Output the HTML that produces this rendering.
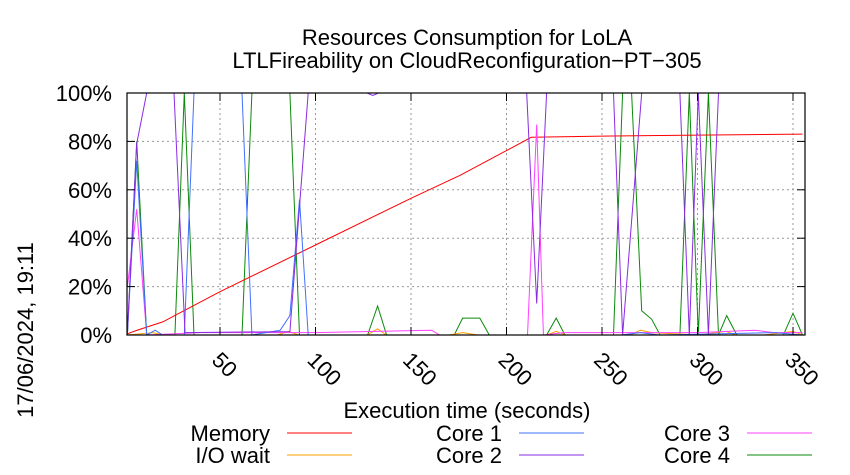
<!DOCTYPE html>
<html><head><meta charset="utf-8"><style>
body{margin:0;background:#fff}
svg{display:block;font-family:"Liberation Sans",sans-serif}
</style></head><body>
<svg id="c" width="850" height="475" viewBox="0 0 850 475">
<text x="467" y="45" font-size="22" text-anchor="middle">Resources Consumption for LoLA</text>
<text x="467" y="68" font-size="22" text-anchor="middle">LTLFireability on CloudReconfiguration−PT−305</text>
<text transform="translate(33,330) rotate(-90)" font-size="22" text-anchor="middle">17/06/2024, 19:11</text>
<text x="467" y="418" font-size="22" text-anchor="middle">Execution time (seconds)</text>
<g id="grid"></g>
<g id="series"></g>
<g id="axes"></g>
<g id="legend"></g>
</svg>
<script>
const xTicks=[50,100,150,200,250,300,350];
const yTicks=[0,20,40,60,80,100];
const yTickLabels=["0%","20%","40%","60%","80%","100%"];
const seriesNames=["Memory","I/O wait","Core 1","Core 2","Core 3","Core 4"];
const seriesColors=["#ff0000","#ffa000","#4070ff","#8a2be2","#ff40ff","#0a8a0a"];
const memT=[1.5,6.4,20,50,100,150,175.7,200,213,250,300,355];
const memV=[0.5,1.9,5.4,17.9,37.2,56.5,66,76.2,81.7,82.2,82.6,83];
const ioT=[1.5,15,20,80,86,91,127,132.5,137,170,177,185,221,226,231,265,270,276,300,315,320,335,350,355];
const ioV=[0,1,0,0,1.5,0,0,2.5,0,0,1,0,0,1.5,0,0,2,1,0,1.5,0,0,1.5,0];
const c1T=[1.5,6.4,11.6,16,20,31.3,36.4,61.5,66.7,81.5,86.6,91.6,96.2,260,270,280,340,355];
const c1V=[0,72,0,2,0,0,100,100,0,2,8,56,0,0,1,0,1,0];
const c2T=[1.5,6.4,11.6,25.9,31.7,86.6,96.2,127,130,133,210.6,215.8,221,256,260.8,270.8,290.8,295.7,300.4,305.7,311,355.4];
const c2V=[1.4,79,100,100,1,1.4,100,100,99,100,100,13,100,100,0,100,100,0,100,0,100,100];
const c3T=[1.5,6.4,11.6,40,100,160.8,165,211,215.8,219.3,230,260,300,330,340,355];
const c3V=[20,52,0,1,1,2,0,0,87,0,1,1,1,2,1,1];
const c4T=[1.5,6.4,11.6,26.4,31.3,36.4,61.5,66.7,86.6,91.6,127.3,132.5,137.2,172.6,177,186,191,221,226,230.6,256,260.8,265.5,270.8,276,280.4,290.8,295.7,300.4,305.7,311,315.3,320.6,345,350,355];
const c4V=[0,80,0,0,100,0,0,100,100,0,0,12,0,0,7,7,0,0,7,0,0,100,100,10,6.5,0,0,100,0,100,0,8,0,0,9,0];
const allT=[memT,ioT,c1T,c2T,c3T,c4T], allV=[memV,ioV,c1V,c2V,c3V,c4V];
const NS="http://www.w3.org/2000/svg";
const L=127,R=805,T=93,B=335;
const xs=t=>124.5+1.91*t;
const ys=v=>B-(B-T)*v/100;
function mk(tag,attrs,parent){const e=document.createElementNS(NS,tag);for(const k in attrs)e.setAttribute(k,attrs[k]);parent.appendChild(e);return e;}
const grid=document.getElementById('grid'),axes=document.getElementById('axes'),ser=document.getElementById('series'),leg=document.getElementById('legend');
yTicks.forEach((v,i)=>{
  const y=ys(v);
  if(v>0&&v<100){const g=mk('line',{x1:L,x2:R,y1:y,y2:y,stroke:'#999','stroke-dasharray':'2,3','stroke-width':1},grid);
  
  }
  const t1=mk('line',{x1:L,x2:L+8,y1:y,y2:y,stroke:'#000'},axes);
  
  
  const t2=mk('line',{x1:R-8,x2:R,y1:y,y2:y,stroke:'#000'},axes);
  
  
  const lb=mk('text',{x:112,y:y+8,'font-size':22,'text-anchor':'end'},axes);
  lb.textContent=yTickLabels[i];
  
  
});
xTicks.forEach(t=>{
  const x=xs(t);
  const g=mk('line',{x1:x,x2:x,y1:T,y2:B,stroke:'#999','stroke-dasharray':'2,3','stroke-width':1},grid);
  
  
  const t1=mk('line',{x1:x,x2:x,y1:B,y2:B-8,stroke:'#000'},axes);
  
  
  const t2=mk('line',{x1:x,x2:x,y1:T,y2:T+8,stroke:'#000'},axes);
  
  
  const lb=mk('text',{transform:`translate(${x+2},350) rotate(45)`,x:0,y:16,'font-size':22},axes);
  lb.textContent=t;
  
  
});
const border=mk('rect',{x:L,y:T,width:R-L,height:B-T,fill:'none',stroke:'#000','stroke-width':1.2},axes);


[5,0,1,4,2,3].forEach(i=>{
  const pts=allT[i].map((t,j)=>xs(t).toFixed(1)+','+ys(allV[i][j]).toFixed(1)).join(' ');
  const p=mk('polyline',{points:pts,fill:'none',stroke:seriesColors[i],'stroke-width':1},ser);
  
  
});
const legX=[270,502,730],legY=[441,463];
seriesNames.forEach((n,i)=>{
  const col=Math.floor(i/2),row=i%2;
  const tx=mk('text',{x:legX[col],y:legY[row],'font-size':22,'text-anchor':'end'},leg);
  tx.textContent=n;
  
  
  const ln=mk('line',{x1:legX[col]+17,x2:legX[col]+82,y1:legY[row]-8,y2:legY[row]-8,stroke:seriesColors[i],'stroke-width':1},leg);
  
  
});
</script>
</body></html>
